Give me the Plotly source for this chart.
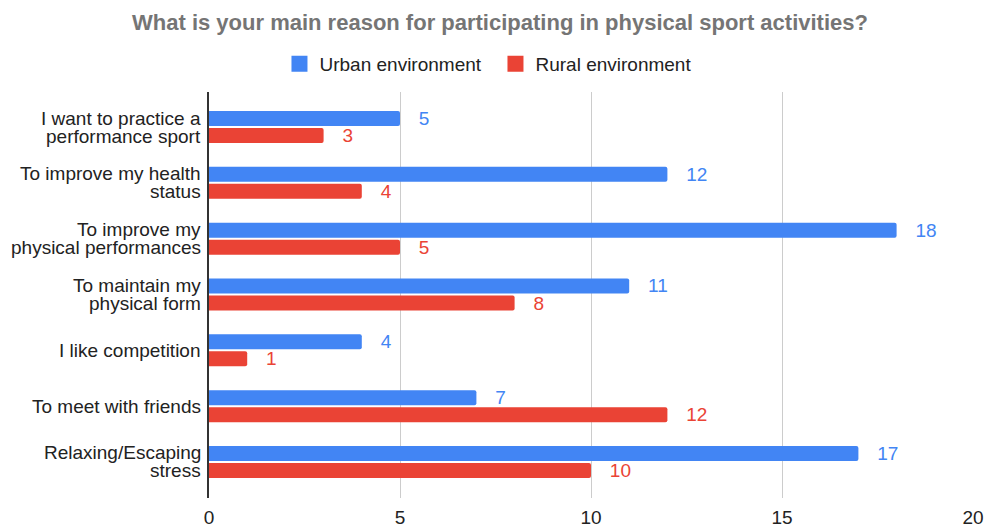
import plotly.graph_objects as go

categories = [
    "I want to practice a<br>performance sport",
    "To improve my health<br>status",
    "To improve my<br>physical performances",
    "To maintain my<br>physical form",
    "I like competition",
    "To meet with friends",
    "Relaxing/Escaping<br>stress",
]
urban = [5, 12, 18, 11, 4, 7, 17]
rural = [3, 4, 5, 8, 1, 12, 10]
x_ticks = [0, 5, 10, 15, 20]
series_names = ["Urban environment", "Rural environment"]

BLUE = "#4285F4"
RED = "#EA4335"
FONT = "Liberation Sans, Arial, sans-serif"
FS = 19
LINE_H = 18

fig = go.Figure()
for name, vals, col in [(series_names[0], urban, BLUE), (series_names[1], rural, RED)]:
    fig.add_trace(go.Bar(
        y=categories, x=vals, orientation="h", name=name, showlegend=False,
        marker=dict(color=col, line=dict(width=0)),
        text=vals, texttemplate="   %{x}", textposition="outside",
        textfont=dict(color=col, size=FS, family=FONT), cliponaxis=False,
        constraintext="none",
    ))
# legend entries with larger square swatches
for name, col in [(series_names[0], BLUE), (series_names[1], RED)]:
    fig.add_trace(go.Scatter(
        x=[None], y=[None], mode="markers", name=name, showlegend=True,
        marker=dict(symbol="square", size=17, color=col, line=dict(width=0)),
    ))

# category labels with tighter line spacing
annotations = []
for cat in categories:
    lines = cat.split("<br>")
    n = len(lines)
    for i, ln in enumerate(lines):
        annotations.append(dict(
            x=0, xref="paper", y=cat, yref="y", text=ln, showarrow=False,
            xanchor="right", yanchor="middle", xshift=-7, borderpad=0,
            yshift=((n - 1) / 2 - i) * LINE_H,
            font=dict(size=FS, color="#222222", family=FONT),
        ))

fig.update_layout(
    width=987, height=527,
    margin=dict(l=209, r=14, t=92, b=29, autoexpand=False),
    paper_bgcolor="white", plot_bgcolor="white",
    font=dict(family=FONT, size=FS, color="#222222"),
    title=dict(text="<b>What is your main reason for participating in physical sport activities?</b>",
               x=500 / 987, xref="container", xanchor="center", y=1 - 22 / 527, yref="container",
               yanchor="middle", font=dict(size=22, color="#757575", family=FONT)),
    legend=dict(orientation="h", x=0.502, xref="container", xanchor="center",
                y=1 - 45 / 527, yref="container", yanchor="top", entrywidth=171,
                font=dict(size=FS, color="#222222")),
    barmode="group", bargap=0.39, bargroupgap=0.12, barcornerradius=2,
    showlegend=True,
    annotations=annotations,
)
fig.update_xaxes(range=[0, 20], tickvals=x_ticks, showgrid=True, gridcolor="#cccccc",
                 gridwidth=1, zeroline=False, showline=False, ticks="", automargin=False,
                 ticklabelstandoff=6, tickfont=dict(size=FS, color="#222222"))
fig.update_yaxes(autorange=False, range=[6.645, -0.627], showgrid=False, showline=True,
                 linecolor="#333333", linewidth=1.5, ticks="", showticklabels=False,
                 automargin=False)

fig.write_html("out.html", config={"displayModeBar": False},
               post_script="document.body.style.margin='0px';")
